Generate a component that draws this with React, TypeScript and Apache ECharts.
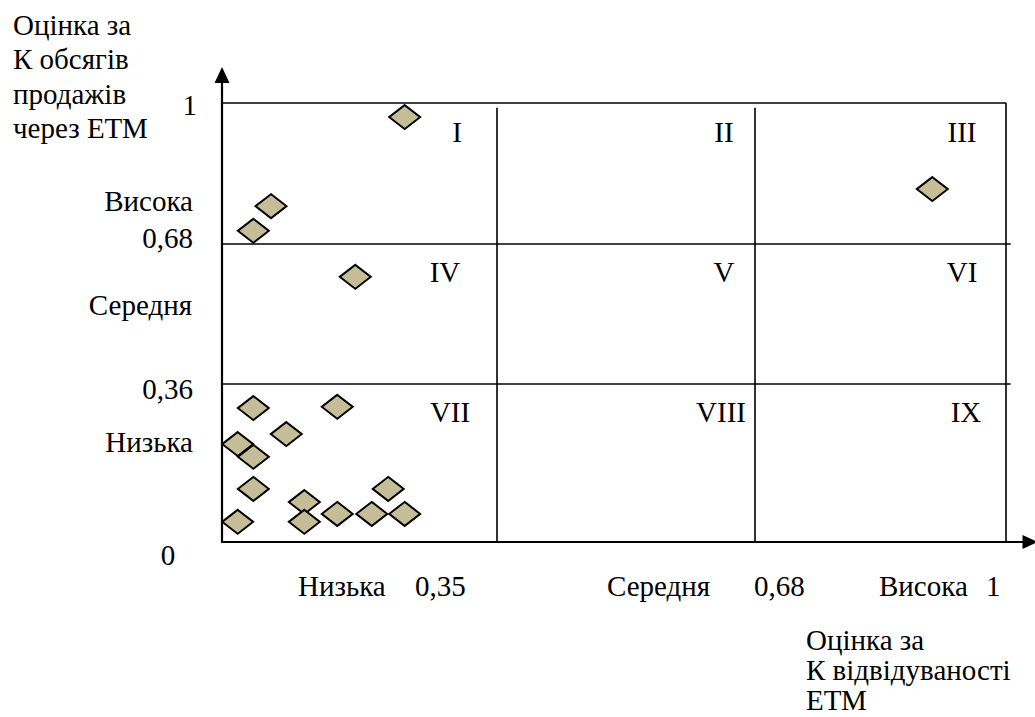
import React, { useEffect, useRef } from "react";
import * as echarts from "echarts";

// Points: x = оцінка за К відвідуваності ЕТМ, y = оцінка за К обсягів продажів через ЕТМ
const pointsX = [0.233, 0.0625, 0.04, 0.17, 0.906, 0.04, 0.147, 0.082, 0.02, 0.04, 0.04, 0.212, 0.105, 0.02, 0.105, 0.147, 0.191, 0.233];
const pointsY = [0.968, 0.765, 0.709, 0.604, 0.804, 0.305, 0.308, 0.246, 0.223, 0.194, 0.121, 0.121, 0.091, 0.046, 0.046, 0.064, 0.064, 0.064];

// Boundaries of the levels
const xBounds = [0.35, 0.68];
const yBounds = [0.36, 0.68];

// Texts
const cellLabels = ["I", "II", "III", "IV", "V", "VI", "VII", "VIII", "IX"];
const xTickLabels = ["Низька", "0,35", "Середня", "0,68", "Висока", "1"];
const yTickLabels = ["1", "Висока", "0,68", "Середня", "0,36", "Низька"];
const zeroLabel = "0";
const yTitleLines = ["Оцінка за", "К обсягів", "продажів", "через ЕТМ"];
const xTitleLines = ["Оцінка за", "К відвідуваності", "ЕТМ"];

const FONT = "'Liberation Serif', 'Times New Roman', serif";
const FS = 29;

function txt(text: string, x: number, y: number, align: string) {
  return {
    type: "text",
    x,
    y,
    silent: true,
    style: {
      text,
      fontSize: FS,
      fontFamily: FONT,
      fill: "#000",
      textAlign: align,
      textVerticalAlign: "middle",
    },
  };
}

export default function App() {
  const ref = useRef<HTMLDivElement>(null);

  useEffect(() => {
    document.body.style.margin = "0";
    if (!ref.current) return;
    const chart = echarts.init(ref.current, null, { renderer: "svg" });

    const lineStyle = { color: "#000", width: 1.6, type: "solid" };
    const frameLines: any[] = [
      [{ coord: [0, 1] }, { coord: [1, 1] }],
      [{ coord: [1, 0] }, { coord: [1, 1] }],
      ...xBounds.map((b) => [{ coord: [b, 0] }, { coord: [b, 0.989] }]),
      ...yBounds.map((b) => [{ coord: [0, b] }, { coord: [1.006, b] }]),
    ];

    // label layout (pixel positions)
    const cellPos = [
      [457, 132], [724, 132], [962, 132],
      [445, 272], [724, 272], [962, 272],
      [450, 412], [721, 412], [966, 412],
    ];
    const xTickPos = [298, 415, 607, 754, 879, 986];
    const yTickPos: [number, number][] = [
      [197, 105], [193, 201], [193, 238], [192, 305], [193, 389], [193, 442],
    ];
    const xTitleY = [640, 670, 700];

    const graphics: any[] = [];
    cellLabels.forEach((t, i) => graphics.push(txt(t, cellPos[i][0], cellPos[i][1], "center")));
    xTickLabels.forEach((t, i) => graphics.push(txt(t, xTickPos[i], 586, "left")));
    yTickLabels.forEach((t, i) => graphics.push(txt(t, yTickPos[i][0], yTickPos[i][1], "right")));
    graphics.push(txt(zeroLabel, 168, 555, "center"));
    yTitleLines.forEach((t, i) => graphics.push(txt(t, 13, 25 + i * 34.4, "left")));
    xTitleLines.forEach((t, i) => graphics.push(txt(t, 806, xTitleY[i], "left")));

    chart.setOption({
      animation: false,
      backgroundColor: "#fff",
      grid: { left: 222, right: 5, top: 75, bottom: 175, containLabel: false },
      xAxis: {
        type: "value",
        min: 0,
        max: 1.0306,
        splitLine: { show: false },
        axisTick: { show: false },
        axisLabel: { show: false },
        axisLine: {
          show: true,
          symbol: ["none", "triangle"],
          symbolSize: [14, 15],
          lineStyle: { color: "#000", width: 2 },
        },
      },
      yAxis: {
        type: "value",
        min: 0,
        max: 1.0638,
        splitLine: { show: false },
        axisTick: { show: false },
        axisLabel: { show: false },
        axisLine: {
          show: true,
          symbol: ["none", "triangle"],
          symbolSize: [15, 16],
          lineStyle: { color: "#000", width: 2.2 },
        },
      },
      series: [
        {
          type: "scatter",
          z: 3,
          symbol: "diamond",
          symbolSize: [31, 24],
          itemStyle: { color: "#C4BD97", borderColor: "#000", borderWidth: 2, opacity: 1 },
          data: pointsX.map((x, i) => [x, pointsY[i]]),
          markLine: {
            z: 1,
            silent: true,
            symbol: ["none", "none"],
            label: { show: false },
            lineStyle,
            data: frameLines,
          },
        },
      ],
      graphic: graphics,
    });

    return () => chart.dispose();
  }, []);

  return <div ref={ref} style={{ width: 1035, height: 717 }} />;
}
